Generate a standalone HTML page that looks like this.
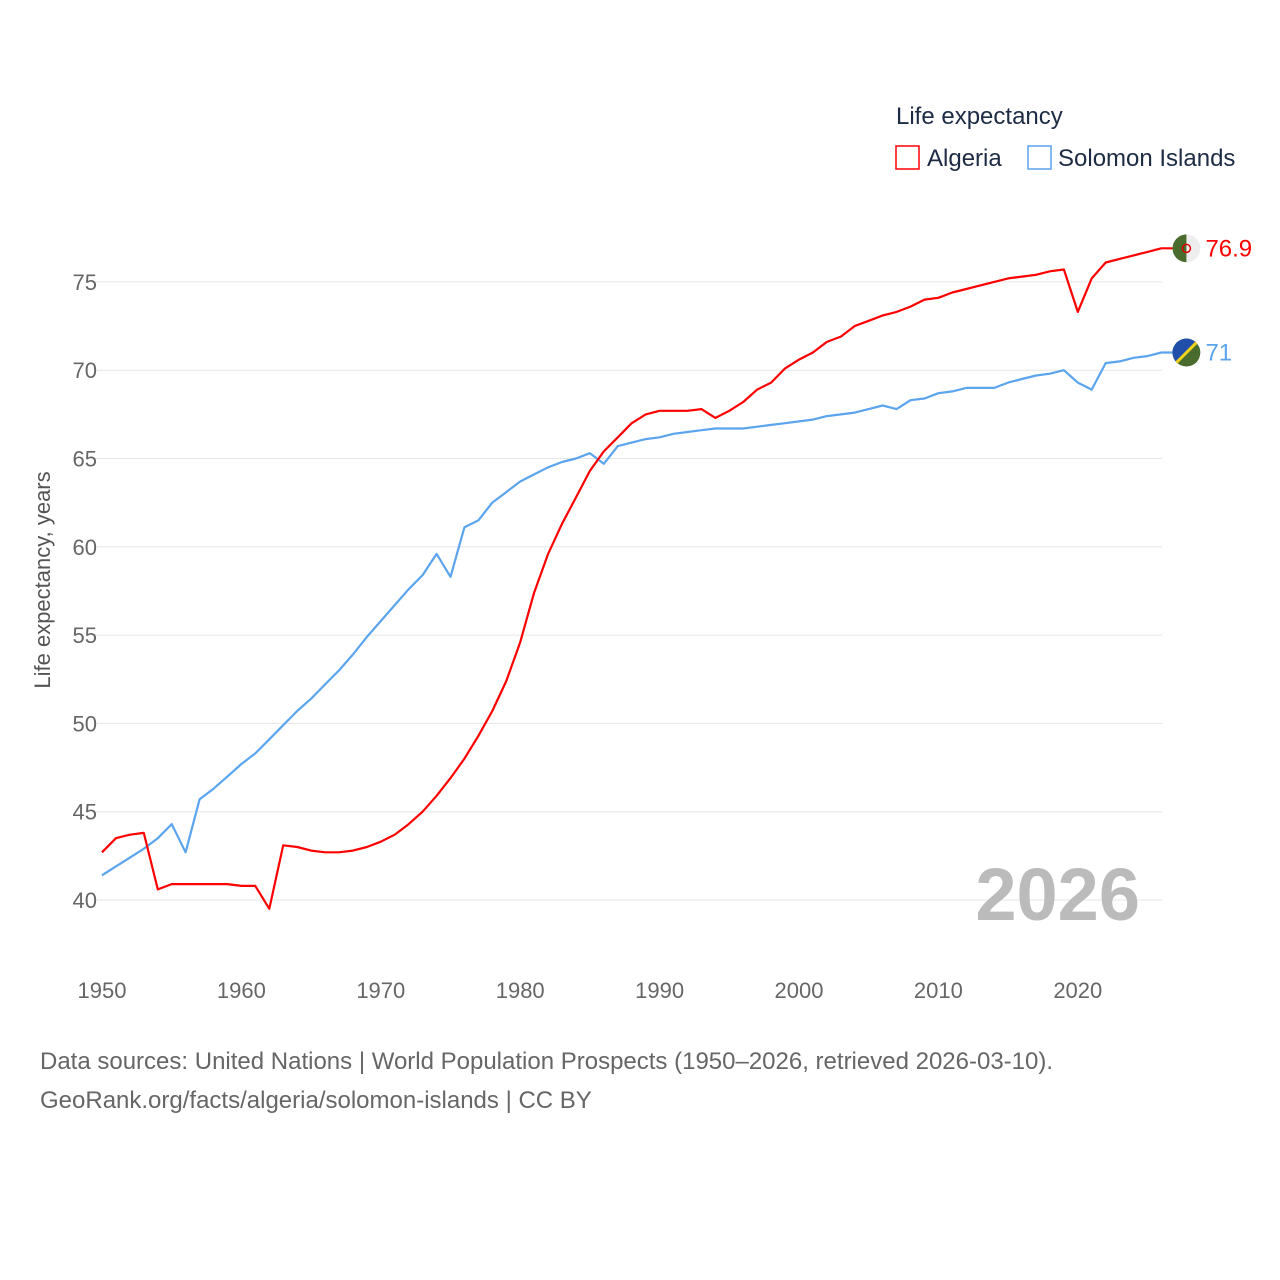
<!DOCTYPE html>
<html><head><meta charset="utf-8"><style>
body{margin:0;background:#fff;}
svg{display:block;font-family:"Liberation Sans",sans-serif;}
</style></head><body>
<svg id="chart" width="1280" height="1280" viewBox="0 0 1280 1280" xmlns="http://www.w3.org/2000/svg">
<rect width="1280" height="1280" fill="#fff"/>
<defs id="defs"></defs>
<g id="grid"></g><g id="yticks"></g><g id="xticks"></g><g id="lines"></g>
<text transform="translate(50,580) rotate(-90)" text-anchor="middle" font-size="22" fill="#555">Life expectancy, years</text>
<text x="1140" y="920" text-anchor="end" font-size="74" font-weight="bold" fill="#bbb">2026</text>
<text x="896" y="124" font-size="24" fill="#1d2b45">Life expectancy</text>
<g><rect x="896" y="146" width="23" height="23" fill="none" stroke="#f00" stroke-width="1.5"/><text x="927" y="166" font-size="24" fill="#1d2b45">Algeria</text></g>
<g><rect x="1028" y="146" width="23" height="23" fill="none" stroke="#5ba4ee" stroke-width="1.5"/><text x="1058" y="166" font-size="24" fill="#1d2b45">Solomon Islands</text></g>
<text x="40" y="1069" font-size="24" fill="#666">Data sources: United Nations | World Population Prospects (1950–2026, retrieved 2026-03-10).</text>
<text x="40" y="1108" font-size="24" fill="#666">GeoRank.org/facts/algeria/solomon-islands | CC BY</text>
</svg>
<script>
const years=[];for(let y=1950;y<=2026;y++)years.push(y);
const algeria=[42.7,43.5,43.7,43.8,40.6,40.9,40.9,40.9,40.9,40.9,40.8,40.8,39.5,43.1,43.0,42.8,42.7,42.7,42.8,43.0,43.3,43.7,44.3,45.0,45.9,46.9,48.0,49.3,50.7,52.4,54.6,57.4,59.6,61.3,62.8,64.3,65.4,66.2,67.0,67.5,67.7,67.7,67.7,67.8,67.3,67.7,68.2,68.9,69.3,70.1,70.6,71.0,71.6,71.9,72.5,72.8,73.1,73.3,73.6,74.0,74.1,74.4,74.6,74.8,75.0,75.2,75.3,75.4,75.6,75.7,73.3,75.2,76.1,76.3,76.5,76.7,76.9];
const solomon=[41.4,41.9,42.4,42.9,43.5,44.3,42.7,45.7,46.3,47.0,47.7,48.3,49.1,49.9,50.7,51.4,52.2,53.0,53.9,54.9,55.8,56.7,57.6,58.4,59.6,58.3,61.1,61.5,62.5,63.1,63.7,64.1,64.5,64.8,65.0,65.3,64.7,65.7,65.9,66.1,66.2,66.4,66.5,66.6,66.7,66.7,66.7,66.8,66.9,67.0,67.1,67.2,67.4,67.5,67.6,67.8,68.0,67.8,68.3,68.4,68.7,68.8,69.0,69.0,69.0,69.3,69.5,69.7,69.8,70.0,69.3,68.9,70.4,70.5,70.7,70.8,71.0];
const yTicks=[40,45,50,55,60,65,70,75];
const xTicks=[1950,1960,1970,1980,1990,2000,2010,2020];
const NS="http://www.w3.org/2000/svg";
const xs=y=>102+(y-1950)*13.94;
const ys=v=>900-(v-40)*17.66;
function mk(tag,attrs,parent){const e=document.createElementNS(NS,tag);for(const k in attrs)e.setAttribute(k,attrs[k]);(typeof parent==='string'?document.getElementById(parent):parent).appendChild(e);return e;}
yTicks.forEach(t=>{
  const l=mk('line',{x1:95,x2:1162,y1:ys(t),y2:ys(t),stroke:'#e6e6e6','stroke-width':1},'grid');
  
  
  const tx=mk('text',{x:97,y:ys(t)+8,'text-anchor':'end','font-size':22,fill:'#666'},'yticks');
  tx.textContent=t;
  
  
});
xTicks.forEach(t=>{
  const tx=mk('text',{x:xs(t),y:998,'text-anchor':'middle','font-size':22,fill:'#666'},'xticks');
  tx.textContent=t;
  
  
});
function series(vals,color,name){
  const last=vals[vals.length-1],lx=xs(years[years.length-1]),ly=ys(last);
  const d=vals.map((v,i)=>(i?'L':'M')+xs(years[i]).toFixed(1)+','+ys(v).toFixed(1)).join('')+'L'+(lx+12)+','+ly.toFixed(1);
  const p=mk('path',{d:d,fill:'none',stroke:color,'stroke-width':2.2,'stroke-linejoin':'round'},'lines');
  
  
  const cx=lx+25;
  const cp=mk('clipPath',{id:'clip-'+name},'defs');
  mk('circle',{cx:cx,cy:ly,r:14},cp);
  const g=mk('g',{'clip-path':'url(#clip-'+name+')'},'lines');
  
  
  if(name==='algeria'){
    mk('circle',{cx:cx,cy:ly,r:14,fill:'#eee'},g);
    mk('path',{d:`M${cx},${ly-14}A14,14 0 0 0 ${cx},${ly+14}Z`,fill:'#4a6b2e'},g);
    mk('circle',{cx:cx,cy:ly,r:4,fill:'none',stroke:'#d00','stroke-width':1.5},g);
  } else {
    mk('circle',{cx:cx,cy:ly,r:14,fill:'#4a6b2e'},g);
    mk('path',{d:`M${cx-14},${ly+14}L${cx-14},${ly-14}L${cx+14},${ly-14}Z`,fill:'#1f4fa8'},g);
    mk('line',{x1:cx-14,y1:ly+14,x2:cx+14,y2:ly-14,stroke:'#f2d31b','stroke-width':3},g);
  }
  const lb=mk('text',{x:lx+44,y:ly+8,'font-size':24,fill:color},'lines');
  lb.textContent=String(last);
  
  
}
series(solomon,'#5ba4ee','solomon-islands');
series(algeria,'#ff0000','algeria');
</script>
</body></html>
